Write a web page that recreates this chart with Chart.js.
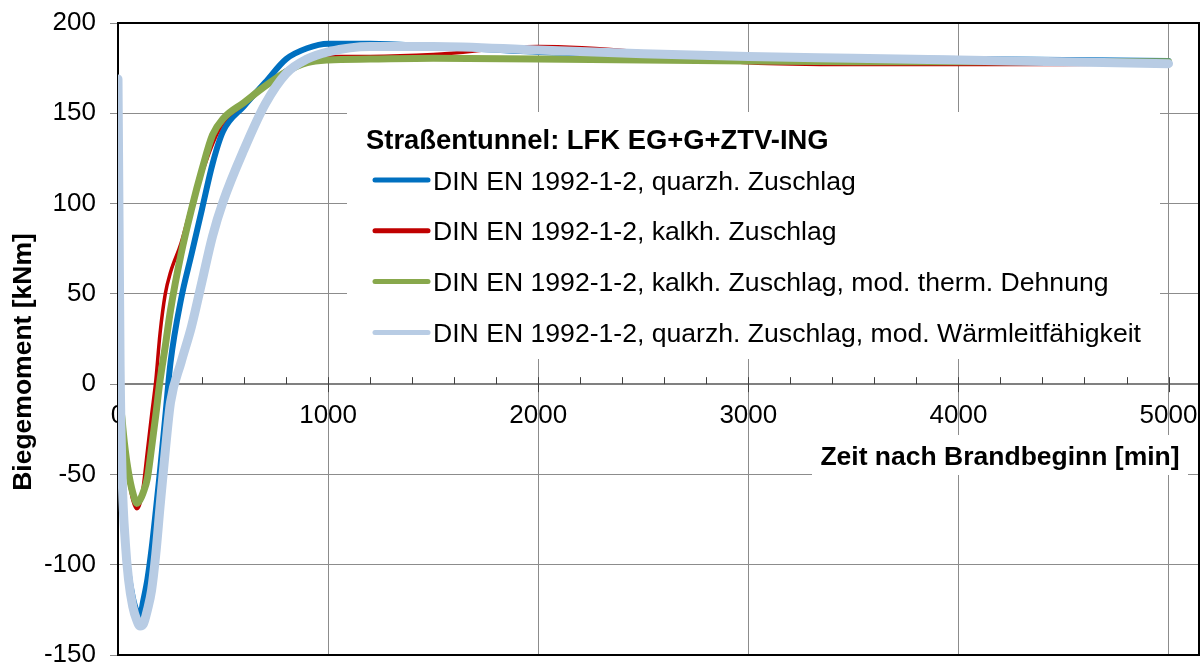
<!DOCTYPE html>
<html>
<head>
<meta charset="utf-8">
<title>Biegemoment</title>
<script src="https://cdn.jsdelivr.net/npm/chart.js@4.4.1/dist/chart.umd.min.js"></script>
<style>
  html, body { margin: 0; padding: 0; background: #fff; }
</style>
</head>
<body>
<canvas id="chart" width="1204" height="663"></canvas>
<script>
// Zeit nach Brandbeginn [min]
const zeit = [0, 5, 10, 20, 35, 50, 70, 90, 105, 120, 140, 160, 180, 200, 225, 250, 300, 350, 400, 450,
  500, 600, 700, 800, 900, 1000, 1200, 1500, 2000, 2500, 3000, 3500, 4000, 4500, 5000];

// Biegemoment [kNm]
const quarzh = [169, 95, 25, -45, -85, -104, -118, -126, -128, -120, -108, -91, -70, -48, -18, 12, 47, 72, 97, 122,
  140, 154, 167, 180, 186, 188.5, 188.5, 187, 184, 182.5, 181.5, 180.5, 180, 179.5, 179];
const kalkh = [169, 80, 0, -22, -40, -52, -64, -69, -66, -57, -37, -17, 2, 28, 50, 62, 78, 99, 117, 133,
  145, 155, 165, 174, 180, 181.5, 181.5, 182.5, 187, 184, 178, 177, 177, 177, 177.5];
const kalkhDehnung = [169, 85, 5, -20, -37, -49, -60, -66, -64, -60, -52, -35, -17, 2, 21, 41, 72, 97, 119, 138,
  147, 156, 165, 173, 178, 179.5, 180, 180.5, 180, 179.5, 179, 178.5, 178.5, 178.5, 178.5];
const quarzhWaerme = [169, 90, 10, -52, -88, -108, -123, -131, -134, -133, -125, -114, -94, -68, -37, -10, 12, 32, 57, 82,
  101, 130, 155, 172, 180, 184, 187, 187, 185, 183, 181.5, 180.5, 179.5, 178.5, 177.5];

const xTicks = [0, 1000, 2000, 3000, 4000, 5000];

const titel = 'Straßentunnel: LFK EG+G+ZTV-ING';
const namen = [
  'DIN EN 1992-1-2, quarzh. Zuschlag',
  'DIN EN 1992-1-2, kalkh. Zuschlag',
  'DIN EN 1992-1-2, kalkh. Zuschlag, mod. therm. Dehnung',
  'DIN EN 1992-1-2, quarzh. Zuschlag, mod. Wärmleitfähigkeit'
];
const farben = ['#0070C0', '#C00000', '#88A84C', '#B8CCE4'];
const breiten = [6, 3.5, 7, 9];

const FONT = "'Liberation Sans', Arial, sans-serif";

const punkte = (werte) => zeit.map((t, i) => ({ x: t, y: werte[i] }));

// Legende, Achsentitel, Rahmen und Teilstriche auf der Nulllinie
const beschriftung = {
  id: 'beschriftung',
  beforeDatasetsDraw(chart) {
    const { ctx, chartArea: a, scales: { x, y } } = chart;
    ctx.save();

    // Teilstriche auf der Nulllinie
    const y0 = y.getPixelForValue(0);
    ctx.strokeStyle = '#404040';
    ctx.lineWidth = 1;
    for (let t = 200; t <= 5000; t += 200) {
      const px = Math.round(x.getPixelForValue(t)) + 0.5;
      ctx.beginPath();
      ctx.moveTo(px, y0 - 7);
      ctx.lineTo(px, t % 1000 === 0 ? y0 + 8 : y0);
      ctx.stroke();
    }

    // Rahmen
    ctx.strokeStyle = '#000';
    ctx.lineWidth = 2;
    ctx.strokeRect(a.left, a.top, a.right - a.left, a.bottom - a.top);

    // Legende
    ctx.fillStyle = '#fff';
    ctx.fillRect(347, 112, 813, 247);
    ctx.fillStyle = '#000';
    ctx.textAlign = 'left';
    ctx.textBaseline = 'alphabetic';
    ctx.font = 'bold 27.4px ' + FONT;
    ctx.fillText(titel, 366, 149);
    ctx.font = '26.6px ' + FONT;
    namen.forEach((n, i) => {
      const cy = 180 + i * 50.8;
      ctx.strokeStyle = farben[i];
      ctx.lineWidth = 5;
      ctx.lineCap = 'round';
      ctx.beginPath();
      ctx.moveTo(375, cy);
      ctx.lineTo(428, cy);
      ctx.stroke();
      ctx.fillText(n, 433, cy + 9.5);
    });

    // x-Achsentitel
    ctx.fillStyle = '#fff';
    ctx.fillRect(812, 435, 376, 40);
    ctx.fillStyle = '#000';
    ctx.font = 'bold 26.5px ' + FONT;
    ctx.textAlign = 'center';
    ctx.fillText('Zeit nach Brandbeginn [min]', 1000, 465);

    // y-Achsentitel
    ctx.translate(31, 362);
    ctx.rotate(-Math.PI / 2);
    ctx.fillText('Biegemoment [kNm]', 0, 0);
    ctx.restore();
  }
};

new Chart(document.getElementById('chart'), {
  type: 'line',
  data: {
    datasets: [quarzh, kalkh, kalkhDehnung, quarzhWaerme].map((werte, i) => ({
      label: namen[i],
      data: punkte(werte),
      borderColor: farben[i],
      backgroundColor: farben[i],
      borderWidth: breiten[i],
      pointRadius: 0,
      cubicInterpolationMode: 'monotone',
      borderCapStyle: 'round',
      borderJoinStyle: 'round',
      order: 4 - i
    }))
  },
  options: {
    responsive: false,
    animation: false,
    layout: { padding: { left: 0, top: 23, right: 5, bottom: 8 } },
    plugins: { legend: { display: false }, tooltip: { enabled: false } },
    scales: {
      x: {
        type: 'linear',
        position: { y: 0 },
        min: 0,
        max: 5145,
        afterBuildTicks(s) { s.ticks = xTicks.map(v => ({ value: v })); },
        afterFit(s) { s.paddingLeft = 0; s.paddingRight = 0; },
        ticks: {
          autoSkip: false, maxRotation: 0, color: '#000', padding: 16,
          font: { family: FONT, size: 26 },
          callback: (v) => String(v)
        },
        grid: { color: '#8c8c8c', lineWidth: 1, drawTicks: false },
        border: { color: '#808080', width: 2 }
      },
      y: {
        min: -150,
        max: 200,
        afterFit(s) { s.width = 118; s.paddingTop = 0; s.paddingBottom = 0; },
        ticks: { stepSize: 50, color: '#000', padding: 14, font: { family: FONT, size: 26 } },
        grid: { color: '#8c8c8c', lineWidth: 1, tickLength: 8, tickColor: '#8c8c8c' },
        border: { color: '#000', width: 2 }
      }
    }
  },
  plugins: [beschriftung]
});
</script>
</body>
</html>
